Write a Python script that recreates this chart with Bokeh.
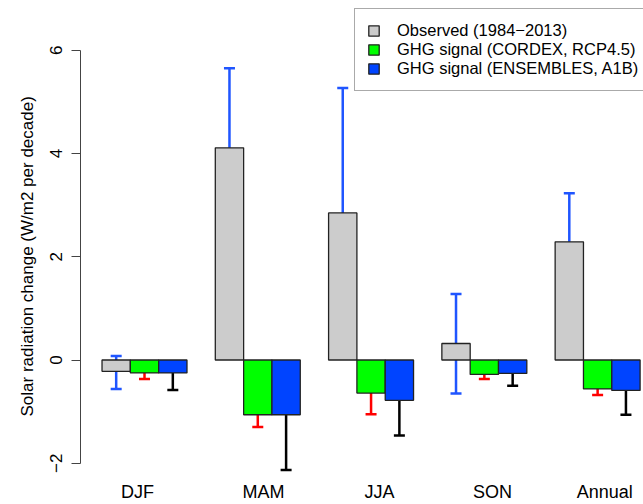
from bokeh.plotting import figure
from bokeh.models import (ColumnDataSource, Whisker, TeeHead, FixedTicker,
                          Legend, LegendItem, Range1d, Title)
from bokeh.embed import file_html
from bokeh.resources import INLINE

# ---------------- data ----------------
seasons = ["DJF", "MAM", "JJA", "SON", "Annual"]

observed = [-0.22, 4.11, 2.85, 0.32, 2.29]
observed_lower = [-0.56, 2.58, 0.44, -0.65, 1.33]
observed_upper = [0.08, 5.65, 5.27, 1.28, 3.23]

cordex = [-0.25, -1.06, -0.64, -0.28, -0.56]
cordex_lower = [-0.37, -1.30, -1.05, -0.37, -0.68]
cordex_upper = [-0.19, -0.80, -0.37, -0.20, -0.41]

ensembles = [-0.25, -1.06, -0.78, -0.26, -0.59]
ensembles_lower = [-0.58, -2.13, -1.46, -0.50, -1.06]
ensembles_upper = [-0.03, -0.35, -0.27, -0.09, -0.18]

series_names = ["Observed (1984\u22122013)",
                "GHG signal (CORDEX, RCP4.5)",
                "GHG signal (ENSEMBLES, A1B)"]
y_ticks = [-2, 0, 2, 4, 6]
y_title = "Solar radiation change (W/m2 per decade)"

# ---------------- style / layout ----------------
bar_fills = ["#cccccc", "#00ff00", "#0044ff"]
err_colors = ["#1f55ff", "#ff0000", "#000000"]
label_x = [2.25, 6.70, 10.80, 14.79, 18.75]   # positions of the season names
FONT = "Liberation Sans"

p = figure(width=643, height=504, output_backend="svg", toolbar_location=None,
           x_range=Range1d(0.24, 20.12), y_range=Range1d(-2.334, 6.964),
           min_border_left=80, min_border_right=0, min_border_top=0,
           min_border_bottom=22)
p.outline_line_color = None
p.grid.visible = False
p.background_fill_color = "white"
p.border_fill_color = "white"

values = [observed, cordex, ensembles]
lowers = [observed_lower, cordex_lower, ensembles_lower]
uppers = [observed_upper, cordex_upper, ensembles_upper]

renderers = []
for s in range(3):
    xs = [1.5 + 4 * g + s for g in range(len(seasons))]
    src = ColumnDataSource(dict(x=xs, top=values[s]))
    r = p.vbar(x="x", top="top", bottom=0, width=1, source=src,
               fill_color=bar_fills[s], line_color="#222222", line_width=1.3)
    renderers.append(r)

# error bars drawn after all bars
for s in range(3):
    xs = [1.5 + 4 * g + s for g in range(len(seasons))]
    src = ColumnDataSource(dict(x=xs, lo=lowers[s], hi=uppers[s]))
    w = Whisker(source=src, base="x", lower="lo", upper="hi", dimension="height",
                line_color=err_colors[s], line_width=2.5,
                upper_head=TeeHead(size=11, line_color=err_colors[s], line_width=2.5),
                lower_head=TeeHead(size=11, line_color=err_colors[s], line_width=2.5))
    p.add_layout(w)

# y axis
yax = p.yaxis[0]
yax.ticker = FixedTicker(ticks=y_ticks)
yax.bounds = (min(y_ticks), max(y_ticks))
yax.major_label_overrides = {t: (str(t).replace("-", "\u2212")) for t in y_ticks}
yax.major_label_orientation = "vertical"
yax.major_tick_out = 9
yax.major_tick_in = 0
yax.minor_tick_line_color = None
yax.axis_line_color = "#444444"
yax.major_tick_line_color = "#444444"
yax.major_label_text_font = FONT
yax.major_label_text_font_size = "17px"
yax.major_label_text_color = "black"
yax.major_label_standoff = 9

# y axis title, centred on the -2..6 axis like the original
p.add_layout(Title(text=y_title, align="left", offset=64, standoff=21,
                   text_font=FONT, text_font_size="17px",
                   text_font_style="normal", text_color="black"), "left")

# x axis
xax = p.xaxis[0]
xax.ticker = FixedTicker(ticks=label_x)
xax.major_label_overrides = {x: n for x, n in zip(label_x, seasons)}
xax.axis_line_color = None
xax.major_tick_line_color = None
xax.minor_tick_line_color = None
xax.major_tick_out = 0
xax.major_tick_in = 0
xax.major_label_standoff = 1
xax.major_label_text_font = FONT
xax.major_label_text_font_size = "18px"
xax.major_label_text_color = "black"

legend = Legend(items=[LegendItem(label=series_names[i], renderers=[renderers[i]])
                       for i in range(3)],
                location=(274, 389))
legend.label_text_font = FONT
legend.label_text_font_size = "16.5px"
legend.label_text_color = "black"
legend.glyph_width = 13
legend.glyph_height = 13
legend.label_height = 19
legend.spacing = -1
legend.padding = 12
legend.margin = 0
legend.label_standoff = 17
legend.border_line_color = "#555555"
legend.border_line_width = 1.3
legend.background_fill_alpha = 1.0
p.add_layout(legend, "center")

open("out.html", "w").write(file_html(p, INLINE))
